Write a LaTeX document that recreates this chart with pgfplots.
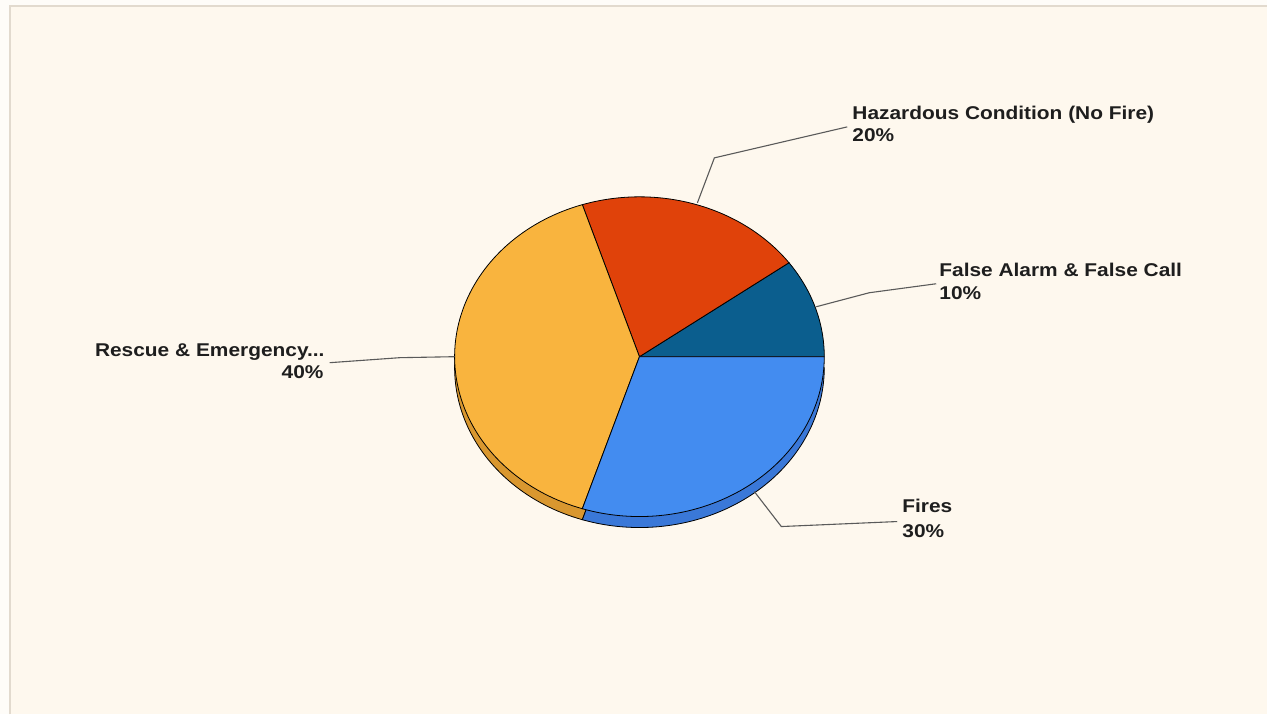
\documentclass[border=0pt]{standalone}
\usepackage{pgfplots}
\pgfplotsset{compat=1.18}
\usepackage{fontspec}
\setmainfont{Liberation Sans}
\newfontfamily\lab{Liberation Sans}[FakeStretch=1.13]
\definecolor{outer}{HTML}{FEFCF8}
\definecolor{bg}{HTML}{FEF8EE}
\definecolor{bordc}{HTML}{E2DACE}
\definecolor{cFalse}{HTML}{0B5E8E}
\definecolor{cHaz}{HTML}{E0420A}
\definecolor{cRes}{HTML}{F9B43E}
\definecolor{cFire}{HTML}{438CF0}
\definecolor{cResSide}{HTML}{D9972F}
\definecolor{cFireSide}{HTML}{3A78D8}
\definecolor{leadc}{HTML}{5A5A5A}
\definecolor{txt}{HTML}{1E1E1E}
% data (percent of incidents)
\def\pFalse{10}
\def\pHaz{20}
\def\pRes{40}
\def\pFire{30}
\pgfmathsetmacro\aA{0}
\pgfmathsetmacro\aB{\aA+3.6*\pFalse}
\pgfmathsetmacro\aC{\aB+3.6*\pHaz}
\pgfmathsetmacro\aD{\aC+3.6*\pRes}
\pgfmathsetmacro\aE{\aD+3.6*\pFire}
\tikzset{lbl/.style={font=\lab\bfseries\fontsize{18.5}{22}\selectfont,text=txt,inner sep=0pt},
  leader/.style={draw=leadc,line width=1.1pt}}
\begin{document}
\begin{tikzpicture}
\begin{axis}[x=1pt,y=1pt,xmin=0,xmax=1268,ymin=0,ymax=715,y dir=reverse,
  hide axis,clip=false]
\fill[outer] (axis cs:0,0) rectangle (axis cs:1268,715);
\fill[bg] (axis cs:10,6) rectangle (axis cs:1268,715);
\draw[bordc,line width=2.2pt] (axis cs:10,715) -- (axis cs:10,6) -- (axis cs:1268,6);
% sides (depth)
\addplot[draw=black,line width=0.8pt,fill=cResSide,domain=\aC:\aD,samples=90]
  ({640+185*cos(x)},{368-160*sin(x)}) -- (axis cs:640,368) -- cycle;
\addplot[draw=black,line width=0.8pt,fill=cFireSide,domain=\aD:\aE,samples=90]
  ({640+185*cos(x)},{368-160*sin(x)}) -- (axis cs:640,368) -- cycle;
% top faces
\addplot[draw=black,line width=0.8pt,fill=cFalse,domain=\aA:\aB,samples=40]
  ({640+185*cos(x)},{357-160*sin(x)}) -- (axis cs:640,357) -- cycle;
\addplot[draw=black,line width=0.8pt,fill=cHaz,domain=\aB:\aC,samples=60]
  ({640+185*cos(x)},{357-160*sin(x)}) -- (axis cs:640,357) -- cycle;
\addplot[draw=black,line width=0.8pt,fill=cRes,domain=\aC:\aD,samples=90]
  ({640+185*cos(x)},{357-160*sin(x)}) -- (axis cs:640,357) -- cycle;
\addplot[draw=black,line width=0.8pt,fill=cFire,domain=\aD:\aE,samples=90]
  ({640+185*cos(x)},{357-160*sin(x)}) -- (axis cs:640,357) -- cycle;
% leader lines
\draw[leader] (axis cs:698,203) -- (axis cs:715,158) -- (axis cs:848,127);
\draw[leader] (axis cs:817,307) -- (axis cs:870,293) -- (axis cs:937,284);
\draw[leader] (axis cs:455,357) -- (axis cs:400,358) -- (axis cs:330,363);
\draw[leader] (axis cs:755,492) -- (axis cs:782,527) -- (axis cs:898,522);
% labels
\node[lbl,anchor=base west] at (axis cs:853,120) {Hazardous Condition (No Fire)};
\node[lbl,anchor=base west] at (axis cs:853,142) {20\%};
\node[lbl,anchor=base west] at (axis cs:940,277) {False Alarm \& False Call};
\node[lbl,anchor=base west] at (axis cs:940,300) {10\%};
\node[lbl,anchor=base east] at (axis cs:325,357) {Rescue \& Emergency...};
\node[lbl,anchor=base east] at (axis cs:324,379) {40\%};
\node[lbl,anchor=base west] at (axis cs:903,513) {Fires};
\node[lbl,anchor=base west] at (axis cs:903,538) {30\%};
\end{axis}
\end{tikzpicture}
\end{document}
